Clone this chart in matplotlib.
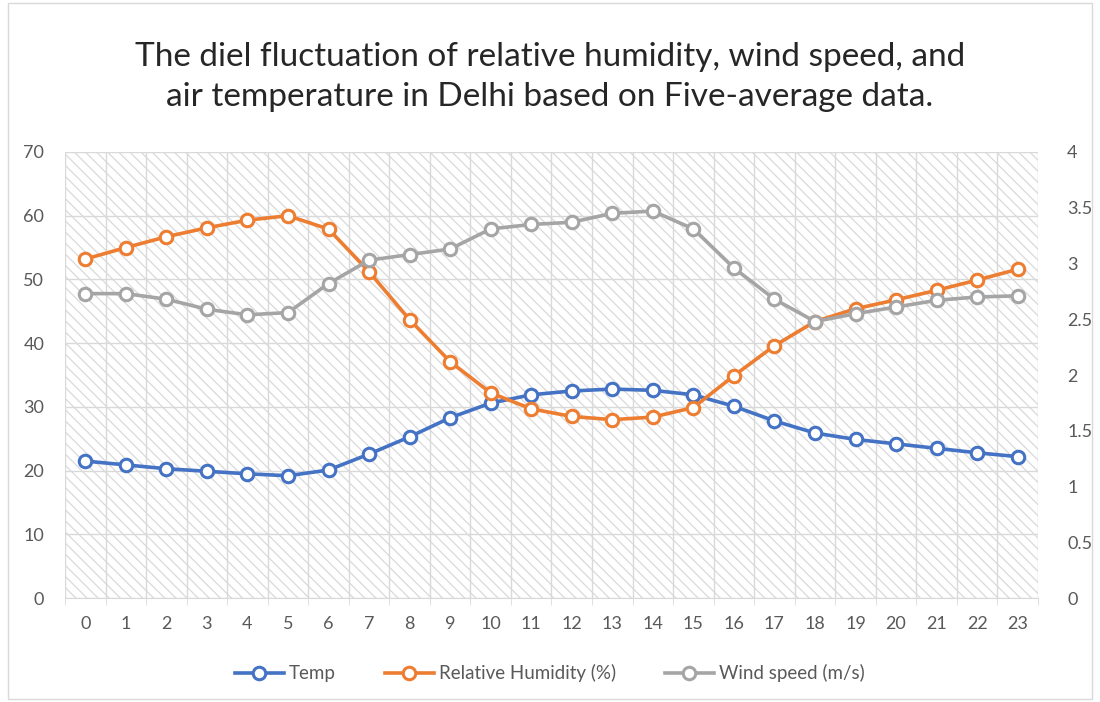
import matplotlib
matplotlib.use("Agg")
import matplotlib.pyplot as plt
from matplotlib.patches import Rectangle
from matplotlib.ticker import MultipleLocator, FixedLocator

plt.rcParams['font.family'] = ['Lato', 'DejaVu Sans']
plt.rcParams['hatch.linewidth'] = 0.9

# hourly means (five-year average)
hours = list(range(24))
temp = [21.5, 20.9, 20.3, 19.9, 19.5, 19.2, 20.1, 22.6, 25.3, 28.3, 30.6, 31.9,
        32.5, 32.8, 32.6, 31.9, 30.1, 27.8, 25.9, 24.9, 24.2, 23.5, 22.8, 22.2]
humidity = [53.2, 55.0, 56.7, 58.1, 59.3, 60.0, 57.9, 51.2, 43.7, 37.1, 32.2, 29.7,
            28.5, 28.0, 28.4, 29.9, 34.9, 39.6, 43.4, 45.4, 46.8, 48.3, 49.9, 51.6]
wind = [2.73, 2.73, 2.68, 2.59, 2.54, 2.56, 2.82, 3.03, 3.08, 3.13, 3.31, 3.35,
        3.37, 3.45, 3.47, 3.31, 2.96, 2.68, 2.48, 2.55, 2.61, 2.67, 2.70, 2.71]

BLUE = '#4472C4'
ORANGE = '#ED7D31'
GREY = '#A5A5A5'
GRID = '#D9D9D9'
TEXT = '#595959'

fig = plt.figure(figsize=(11, 7.02), dpi=100)
fig.patches.append(Rectangle((0.007, 0.004), 0.986, 0.992, transform=fig.transFigure,
                             fill=False, edgecolor=GRID, linewidth=1))

ax = fig.add_axes([0.0591, 0.148, 0.8845, 0.6355])
ax.set_zorder(1)
ax.patch.set_visible(False)

# diagonal hatched plot background
ax.add_patch(Rectangle((0, 0), 1, 1, transform=ax.transAxes, facecolor='white',
                       edgecolor='#D9D9D9', hatch='\\\\\\', linewidth=0, zorder=0))

marker_kw = dict(marker='o', markersize=9, markerfacecolor='white', markeredgewidth=2.2)
l1, = ax.plot(hours, temp, color=BLUE, linewidth=2.6, label='Temp', zorder=3, **marker_kw)
l2, = ax.plot(hours, humidity, color=ORANGE, linewidth=2.6, label='Relative Humidity (%)',
              zorder=4, **marker_kw)

ax.set_xlim(-0.5, 23.5)
ax.set_ylim(0, 70)
ax.yaxis.set_major_locator(MultipleLocator(10))
ax.set_xticks(hours)
ax.xaxis.set_minor_locator(FixedLocator([h - 0.5 for h in range(25)]))
ax.grid(axis='y', which='major', color=GRID, linewidth=1, zorder=1)
ax.grid(axis='x', which='minor', color=GRID, linewidth=1, zorder=1)
ax.tick_params(axis='x', which='major', length=0, pad=13, labelsize=13, labelcolor=TEXT)
ax.tick_params(axis='x', which='minor', length=5, color=GRID)
ax.tick_params(axis='y', length=0, pad=15, labelsize=13, labelcolor=TEXT)
for s in ['top', 'left', 'right']:
    ax.spines[s].set_visible(False)
ax.spines['bottom'].set_color(GRID)

ax2 = ax.twinx()
ax2.set_zorder(2)
l3, = ax2.plot(hours, wind, color=GREY, linewidth=2.6, label='Wind speed (m/s)',
               zorder=5, **marker_kw)
ax2.set_ylim(0, 4)
ax2.yaxis.set_major_locator(MultipleLocator(0.5))
ax2.yaxis.set_major_formatter(plt.FuncFormatter(lambda v, p: f'{v:g}'))
ax2.tick_params(axis='y', which='both', length=0, pad=21, labelsize=13, labelcolor=TEXT)
for s in ax2.spines.values():
    s.set_visible(False)

fig.text(0.5, 0.89, 'The diel fluctuation of relative humidity, wind speed, and\n'
         'air temperature in Delhi based on Five-average data.',
         ha='center', va='center', fontsize=24, color='#262626', linespacing=1.42)

fig.legend(handles=[l1, l2, l3], loc='center', bbox_to_anchor=(0.5, 0.041), ncol=3,
           frameon=False, fontsize=13.5, labelcolor=TEXT, handlelength=2.6,
           columnspacing=2.6, handletextpad=0.3)

fig.savefig('out.png', dpi=100)
